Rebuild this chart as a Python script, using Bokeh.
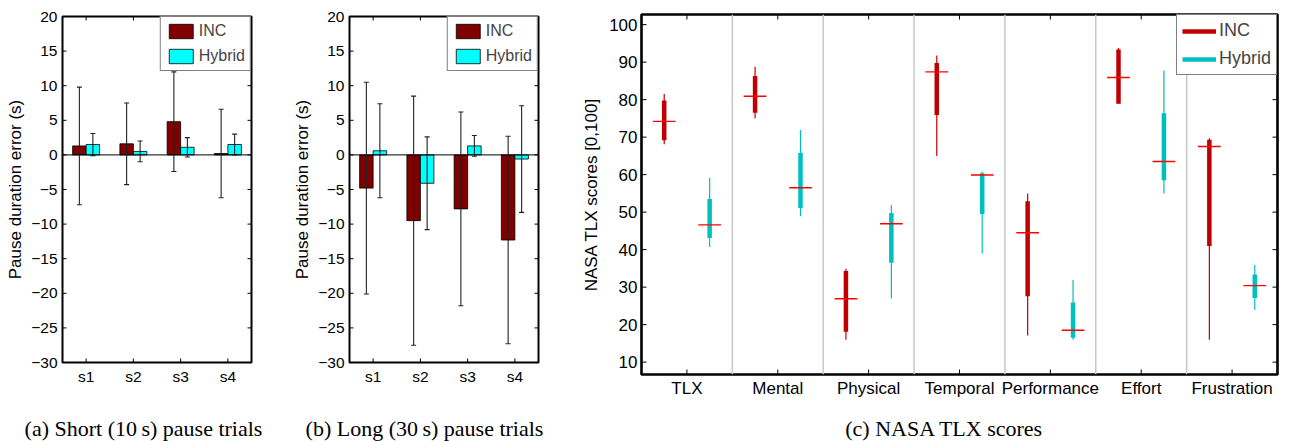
import math
from bokeh.plotting import figure
from bokeh.models import (Range1d, FixedTicker, Span, Whisker, TeeHead,
                          ColumnDataSource, Legend, LegendItem, Plot)
from bokeh.layouts import row, column
from bokeh.embed import file_html
from bokeh.resources import INLINE
from bokeh.core.properties import value

# ---------------- data ----------------
sessions = ["s1", "s2", "s3", "s4"]
short_inc = [1.3, 1.6, 4.8, 0.2]
short_inc_err = [8.5, 5.9, 7.2, 6.4]
short_hyb = [1.5, 0.5, 1.1, 1.5]
short_hyb_err = [1.6, 1.5, 1.4, 1.5]
long_inc = [-4.8, -9.5, -7.8, -12.3]
long_inc_err = [15.3, 18.0, 14.0, 15.0]
long_hyb = [0.6, -4.1, 1.3, -0.6]
long_hyb_err = [6.8, 6.7, 1.5, 7.7]
pause_ticks = [-30, -25, -20, -15, -10, -5, 0, 5, 10, 15, 20]

tlx_categories = ["TLX", "Mental", "Physical", "Temporal", "Performance", "Effort", "Frustration"]
inc_lo = [68.1, 75.0, 16.0, 65.0, 17.1, 78.9, 16.0]
inc_q1 = [69.2, 76.5, 18.1, 75.9, 27.6, 78.9, 41.0]
inc_med = [74.2, 80.9, 26.9, 87.4, 44.5, 85.9, 67.5]
inc_q3 = [79.8, 86.3, 34.3, 89.8, 52.9, 93.4, 69.3]
inc_hi = [81.5, 88.8, 34.9, 91.8, 55.0, 93.8, 69.7]
hyb_lo = [40.7, 48.9, 27.0, 39.0, 16.0, 55.0, 24.0]
hyb_q1 = [43.1, 51.1, 36.5, 49.5, 16.5, 58.5, 27.1]
hyb_med = [46.6, 56.5, 46.9, 59.9, 18.5, 63.5, 30.4]
hyb_q3 = [53.5, 65.8, 49.8, 60.4, 25.9, 76.4, 33.4]
hyb_hi = [59.1, 71.9, 51.9, 60.8, 31.9, 87.8, 35.9]
tlx_ticks = [10, 20, 30, 40, 50, 60, 70, 80, 90, 100]

captions = ["(a) Short (10\u2009s) pause trials",
            "(b) Long (30\u2009s) pause trials",
            "(c) NASA TLX scores"]

# ---------------- style ----------------
SANS = "Liberation Sans"
SERIF = "Liberation Serif"
INC_BAR = "#800000"
HYB_BAR = "#00ffff"
INC_BOX = "#c00000"
HYB_BOX = "#00bfbf"
ERR = "#222222"

EXTRA = {}
if "frame_align" in Plot.properties():
    EXTRA["frame_align"] = False


def minus(v):
    return str(v).replace("-", "\u2212")


def style_axis(ax, ticks, overrides, fs, standoff=5):
    ax.ticker = FixedTicker(ticks=ticks)
    ax.major_label_overrides = overrides
    ax.major_tick_in = 0
    ax.major_tick_out = 0
    ax.major_tick_line_color = None
    ax.minor_tick_line_color = None
    ax.axis_line_color = None
    ax.major_label_text_font = SANS
    ax.major_label_text_color = "black"
    ax.major_label_text_font_size = fs
    ax.major_label_standoff = standoff
    ax.axis_label_text_font = SANS
    ax.axis_label_text_font_style = "normal"
    ax.axis_label_text_color = "black"


def inner_ticks(p, xticks, yticks, size):
    """Inward tick marks on all four sides of the frame (MATLAB 'box on')."""
    xr, yr = p.x_range, p.y_range
    ys = list(yticks)
    xs = list(xticks)
    for xv in (xr.start, xr.end):
        p.scatter(x=[xv] * len(ys), y=ys, marker="dash", size=size,
                  line_color="black", line_width=1)
    for yv in (yr.start, yr.end):
        p.scatter(x=xs, y=[yv] * len(xs), marker="dash", size=size,
                  angle=math.pi / 2, line_color="black", line_width=1)


def pause_panel(inc, inc_err, hyb, hyb_err, width, left, right):
    n = len(sessions)
    p = figure(width=width, height=400,
               x_range=Range1d(0.5, n + 0.5), y_range=Range1d(-30, 20),
               min_border_left=left, min_border_right=right,
               min_border_top=16, min_border_bottom=38,
               output_backend="svg", toolbar_location=None, **EXTRA)
    p.grid.visible = False
    p.outline_line_color = "black"
    p.outline_line_width = 2
    p.background_fill_color = None
    p.border_fill_color = None

    idx = list(range(1, n + 1))
    xo = 1.0 / 7.0
    src_inc = ColumnDataSource(dict(
        x=[i - xo for i in idx], top=inc,
        upper=[m + e for m, e in zip(inc, inc_err)],
        lower=[m - e for m, e in zip(inc, inc_err)]))
    src_hyb = ColumnDataSource(dict(
        x=[i + xo for i in idx], top=hyb,
        upper=[m + e for m, e in zip(hyb, hyb_err)],
        lower=[m - e for m, e in zip(hyb, hyb_err)]))

    r_inc = p.vbar(x="x", top="top", bottom=0, width=2 * xo, source=src_inc,
                   fill_color=INC_BAR, line_color="black", line_width=0.8)
    r_hyb = p.vbar(x="x", top="top", bottom=0, width=2 * xo, source=src_hyb,
                   fill_color=HYB_BAR, line_color="black", line_width=0.8)
    p.add_layout(Span(location=0, dimension="width", line_color="black",
                      line_width=1, level="glyph"))
    for src in (src_inc, src_hyb):
        w = Whisker(source=src, base="x", upper="upper", lower="lower",
                    line_color=ERR, line_width=1.1, level="glyph",
                    upper_head=TeeHead(size=5, line_color=ERR, line_width=1.1),
                    lower_head=TeeHead(size=5, line_color=ERR, line_width=1.1))
        p.add_layout(w)

    inner_ticks(p, idx, pause_ticks, 8)

    xover = {i: s for i, s in zip(idx, sessions)}
    yover = {t: minus(t) for t in pause_ticks}
    style_axis(p.xaxis[0], idx, xover, "15.5px", standoff=5)
    style_axis(p.yaxis[0], pause_ticks, yover, "15.5px", standoff=5)
    p.yaxis[0].axis_label = "Pause duration error (s)"
    p.yaxis[0].axis_label_text_font_size = "17px"
    p.yaxis[0].axis_label_standoff = 3

    legend = Legend(items=[LegendItem(label="INC", renderers=[r_inc]),
                           LegendItem(label="Hybrid", renderers=[r_hyb])],
                    location="top_right", margin=0, padding=5, spacing=7,
                    glyph_width=30, glyph_height=18, label_height=18,
                    label_standoff=3, label_text_font=SANS,
                    label_text_font_size="16px", border_line_color="black",
                    border_line_width=1.6, background_fill_color="white",
                    background_fill_alpha=1)
    p.add_layout(legend)
    return p


pa = pause_panel(short_inc, short_inc_err, short_hyb, short_hyb_err, 271, 62, 20)
pb = pause_panel(long_inc, long_inc_err, long_hyb, long_hyb_err, 289, 78, 22)

# ---------------- panel (c) ----------------
nc = len(tlx_categories)
pc = figure(width=732, height=400,
            x_range=Range1d(0.5, nc + 0.5), y_range=Range1d(6.7, 102.7),
            min_border_left=81, min_border_right=15,
            min_border_top=14, min_border_bottom=24,
            output_backend="svg", toolbar_location=None, **EXTRA)
pc.grid.visible = False
pc.outline_line_color = "black"
pc.outline_line_width = 2.6
pc.background_fill_color = None
pc.border_fill_color = None

for k in range(1, nc):
    pc.add_layout(Span(location=k + 0.5, dimension="height",
                       line_color="#c8c8c8", line_width=1.5, level="underlay"))

cidx = list(range(1, nc + 1))
off = 0.25
mh = 0.125
box_renderers = []
for sign, lo, q1, med, q3, hi, col in (
        (-1, inc_lo, inc_q1, inc_med, inc_q3, inc_hi, INC_BOX),
        (1, hyb_lo, hyb_q1, hyb_med, hyb_q3, hyb_hi, HYB_BOX)):
    xs = [i + sign * off for i in cidx]
    src = ColumnDataSource(dict(x=xs, lo=lo, q1=q1, med=med, q3=q3, hi=hi,
                                xl=[x - mh for x in xs], xr=[x + mh for x in xs]))
    pc.segment(x0="x", y0="lo", x1="x", y1="hi", source=src,
               line_color=col, line_width=1.2)
    rb = pc.segment(x0="x", y0="q1", x1="x", y1="q3", source=src,
                    line_color=col, line_width=4.5, line_cap="butt")
    box_renderers.append(rb)
    pc.segment(x0="xl", y0="med", x1="xr", y1="med", source=src,
               line_color="#ff0000", line_width=1.3)

inner_ticks(pc, cidx, tlx_ticks, 10)

style_axis(pc.xaxis[0], cidx, {i: c for i, c in zip(cidx, tlx_categories)},
           "17px", standoff=4)
style_axis(pc.yaxis[0], tlx_ticks, {t: str(t) for t in tlx_ticks},
           "17px", standoff=4)
pc.yaxis[0].axis_label = "NASA TLX scores [0,100]"
pc.yaxis[0].axis_label_text_font_size = "17px"
pc.yaxis[0].axis_label_standoff = 5

legend_c = Legend(items=[LegendItem(label="INC", renderers=[box_renderers[0]]),
                         LegendItem(label="Hybrid", renderers=[box_renderers[1]])],
                  location="top_right", margin=0, padding=5, spacing=7,
                  glyph_width=34, glyph_height=20, label_height=21,
                  label_standoff=3, label_text_font=SANS,
                  label_text_font_size="18px", border_line_color="black",
                  border_line_width=1.8, background_fill_color="white",
                  background_fill_alpha=1)
pc.add_layout(legend_c)

# ---------------- captions ----------------
cap = figure(width=1292, height=41, x_range=Range1d(0, 1292), y_range=Range1d(0, 41),
             min_border=0, output_backend="svg", toolbar_location=None,
             x_axis_location=None, y_axis_location=None, **EXTRA)
cap.grid.visible = False
cap.outline_line_color = None
cap.background_fill_color = None
cap.border_fill_color = None
cap_src = ColumnDataSource(dict(x=[143, 424, 944], y=[13, 13, 13], t=captions))
cap.text(x="x", y="y", text="t", source=cap_src, text_align="center",
         text_baseline="alphabetic", text_font=value(SERIF),
         text_font_size="22px", text_color="black")

layout = column(row(pa, pb, pc), cap)
open("out.html", "w").write(file_html(layout, INLINE))
